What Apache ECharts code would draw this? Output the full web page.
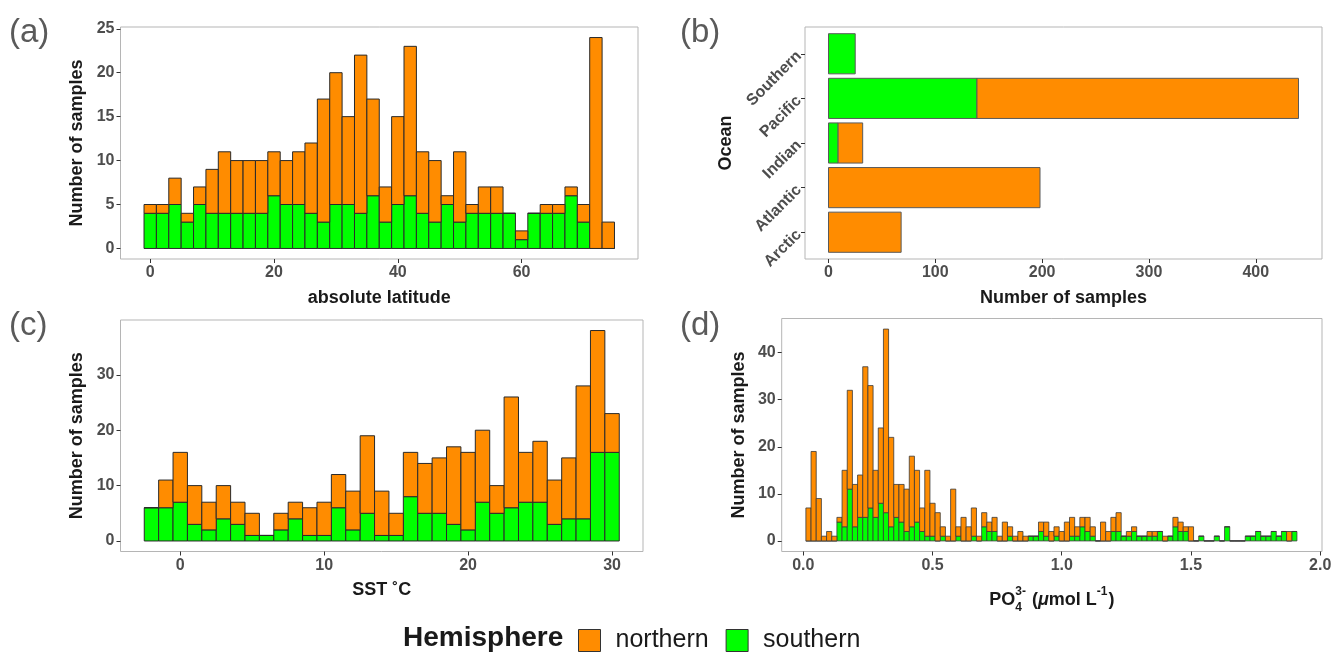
<!DOCTYPE html>
<html><head><meta charset="utf-8">
<script src="https://cdn.jsdelivr.net/npm/echarts@6/dist/echarts.min.js"></script>
<style>html,body{margin:0;padding:0;background:#fff;}#c{width:1337px;height:657px;}</style>
</head><body><div id="c"></div>
<script>
// ---------------- DATA ----------------
// (a) absolute latitude histogram (bin width 2)
const LAT_BIN = 2;
const latCenters = [0,2,4,6,8,10,12,14,16,18,20,22,24,26,28,30,32,34,36,38,40,42,44,46,48,50,52,54,56,58,60,62,64,66,68,70,72,74];
const latSouthern = [4,4,5,3,5,4,4,4,4,4,6,5,5,4,3,5,5,4,6,3,5,6,4,3,5,3,4,4,4,4,1,4,4,4,6,3,0,0];
const latNorthern = [1,1,3,1,2,5,7,6,6,6,5,5,6,8,14,15,10,18,11,4,10,17,7,7,1,8,1,3,3,0,1,0,1,1,1,2,24,3];
const latTicks = [0,20,40,60];
const countTicksA = [0,5,10,15,20,25];

// (b) samples per ocean
const oceans = ['Arctic','Atlantic','Indian','Pacific','Southern'];
const oceanSouthern = [0,0,9,139,25];
const oceanNorthern = [68,198,23,301,0];
const oceanTicks = [0,100,200,300,400];

// (c) SST histogram (bin width 1)
const SST_BIN = 1;
const sstCenters = [-2,-1,0,1,2,3,4,5,6,7,8,9,10,11,12,13,14,15,16,17,18,19,20,21,22,23,24,25,26,27,28,29,30];
const sstSouthern = [6,6,7,3,2,4,3,1,1,2,4,1,1,6,2,5,1,1,8,5,5,3,2,7,5,6,7,7,3,4,4,16,16];
const sstNorthern = [0,5,9,7,5,6,4,4,0,3,3,5,6,6,7,14,8,4,8,9,10,14,14,13,5,20,9,11,8,11,24,22,7];
const sstTicks = [0,10,20,30];
const countTicksC = [0,10,20,30];

// (d) phosphate histogram (bin width 0.02)
const PO4_BIN = 0.02;
const po4Centers = [
 0.02,0.04,0.06,0.08,0.10,0.12,0.14,0.16,0.18,0.20,
 0.22,0.24,0.26,0.28,0.30,0.32,0.34,0.36,0.38,0.40,
 0.42,0.44,0.46,0.48,0.50,0.52,0.54,0.56,0.58,0.60,
 0.62,0.64,0.66,0.68,0.70,0.72,0.74,0.76,0.78,0.80,
 0.82,0.84,0.86,0.88,0.90,0.92,0.94,0.96,0.98,1.00,
 1.02,1.04,1.06,1.08,1.10,1.12,1.14,1.16,1.18,1.20,
 1.22,1.24,1.26,1.28,1.30,1.32,1.34,1.36,1.38,1.40,
 1.42,1.44,1.46,1.48,1.50,1.52,1.54,1.56,1.58,1.60,
 1.62,1.64,1.66,1.68,1.70,1.72,1.74,1.76,1.78,1.80,
 1.82,1.84,1.86,1.88,1.90];
const po4Southern = [
 0,0,0,0,0,0,4,3,11,3,
 5,5,7,5,8,6,3,5,4,2,
 3,4,2,1,1,0,1,0,0,1,
 0,0,1,0,3,2,2,0,0,1,
 0,0,0,1,1,2,1,0,1,0,
 0,1,1,3,2,1,0,0,0,2,
 2,1,1,2,1,1,1,1,2,0,
 1,3,2,2,0,0,1,0,0,1,
 0,3,0,0,0,1,1,2,1,1,
 2,1,2,0,2];
const po4Northern = [
 7,19,9,1,2,1,1,12,21,9,
 9,32,26,10,16,39,19,7,8,9,
 15,11,5,14,7,6,2,1,11,2,
 5,3,6,1,3,2,3,1,4,2,
 1,2,1,0,0,2,3,2,2,2,
 4,4,2,2,3,2,0,4,2,3,
 4,0,1,1,0,0,1,1,0,1,
 0,2,2,1,3,0,0,0,0,0,
 0,0,0,0,0,0,0,0,0,0,
 0,0,0,2,0];
const po4Ticks = [0,0.5,1,1.5,2];
const countTicksD = [0,10,20,30,40];

// ---------------- STYLE ----------------
const ORANGE = '#FF8C00', GREEN = '#00FF00';
const FONT = 'Liberation Sans, Arial, sans-serif';
const TICK_COLOR = '#4d4d4d', TITLE_COLOR = '#1a1a1a';

function stacked(centers, south, north) {
  const s = [], n = [];
  centers.forEach((c, i) => {
    s.push([c, 0, south[i]]);
    n.push([c, south[i], south[i] + north[i]]);
  });
  return { s, n };
}
function vRender(binW, stroke, lw) {
  return function (params, api) {
    const c = api.value(0), y0 = api.value(1), y1 = api.value(2);
    const p0 = api.coord([c - binW / 2, y1]);
    const p1 = api.coord([c + binW / 2, y0]);
    return { type: 'rect', shape: { x: p0[0], y: p0[1], width: p1[0] - p0[0], height: p1[1] - p0[1] },
      style: { fill: api.visual('color'), stroke: stroke, lineWidth: lw } };
  };
}
function hRender(params, api) {
  const idx = api.value(0), x0 = api.value(1), x1 = api.value(2);
  const p0 = api.coord([x0, idx + 0.45]);
  const p1 = api.coord([x1, idx - 0.45]);
  return { type: 'rect', shape: { x: p0[0], y: p0[1], width: p1[0] - p0[0], height: p1[1] - p0[1] },
    style: { fill: api.visual('color'), stroke: '#5a5a5a', lineWidth: 1 } };
}
function tickLabel(extra) {
  return Object.assign({ color: TICK_COLOR, fontWeight: 'bold', fontSize: 16, fontFamily: FONT, margin: 6 }, extra || {});
}
function axisCommon(ticks, fmt) {
  return {
    axisLine: { show: false, onZero: false }, splitLine: { show: false },
    axisTick: { show: true, length: 4, customValues: ticks, lineStyle: { color: '#333', width: 1 } },
    axisLabel: tickLabel({ customValues: ticks, formatter: fmt })
  };
}
const nameStyle = { color: TITLE_COLOR, fontWeight: 'bold', fontSize: 18, fontFamily: FONT };

const A = stacked(latCenters, latSouthern, latNorthern);
const C = stacked(sstCenters, sstSouthern, sstNorthern);
const D = stacked(po4Centers, po4Southern, po4Northern);
const Bs = [], Bn = [];
oceans.forEach((o, i) => {
  if (oceanSouthern[i] > 0) Bs.push([i + 1, 0, oceanSouthern[i]]);
  if (oceanNorthern[i] > 0) Bn.push([i + 1, oceanSouthern[i], oceanSouthern[i] + oceanNorthern[i]]);
});

const gridStyle = { show: true, borderColor: '#b5b5b5', borderWidth: 1, backgroundColor: '#fff' };
const W = 1337, H = 657;
const grids = [
  Object.assign({ left: 120.5, right: W - 638, top: 27, bottom: H - 259 }, gridStyle),
  Object.assign({ left: 805, right: W - 1322, top: 27, bottom: H - 259 }, gridStyle),
  Object.assign({ left: 120.5, right: W - 643, top: 320, bottom: H - 551.5 }, gridStyle),
  Object.assign({ left: 781.7, right: W - 1322, top: 318.5, bottom: H - 551.5 }, gridStyle)
];

const xAxes = [
  Object.assign({ gridIndex: 0, type: 'value', min: -4.8, max: 78.8, name: 'absolute latitude',
    nameLocation: 'middle', nameGap: 30, nameTextStyle: nameStyle }, axisCommon(latTicks)),
  Object.assign({ gridIndex: 1, type: 'value', min: -22, max: 462, name: 'Number of samples',
    nameLocation: 'middle', nameGap: 30, nameTextStyle: nameStyle }, axisCommon(oceanTicks)),
  Object.assign({ gridIndex: 2, type: 'value', min: -4.15, max: 32.15, name: 'SST \u02DAC',
    nameLocation: 'middle', nameGap: 30, nameTextStyle: nameStyle }, axisCommon(sstTicks)),
  Object.assign({ gridIndex: 3, type: 'value', min: -0.0836, max: 2.007 },
    axisCommon(po4Ticks, v => v.toFixed(1)))
];
const yAxes = [
  Object.assign({ gridIndex: 0, type: 'value', min: -1.2, max: 25.2, name: 'Number of samples',
    nameLocation: 'middle', nameRotate: 90, nameGap: 34, nameTextStyle: nameStyle }, axisCommon(countTicksA)),
  Object.assign({ gridIndex: 1, type: 'value', min: 0.4, max: 5.6, name: 'Ocean',
    nameLocation: 'middle', nameRotate: 90, nameGap: 70, nameTextStyle: nameStyle },
    axisCommon([1, 2, 3, 4, 5], v => oceans[Math.round(v) - 1])),
  Object.assign({ gridIndex: 2, type: 'value', min: -1.9, max: 39.9, name: 'Number of samples',
    nameLocation: 'middle', nameRotate: 90, nameGap: 34, nameTextStyle: nameStyle }, axisCommon(countTicksC)),
  Object.assign({ gridIndex: 3, type: 'value', min: -2.25, max: 47.25, name: 'Number of samples',
    nameLocation: 'middle', nameRotate: 90, nameGap: 34, nameTextStyle: nameStyle }, axisCommon(countTicksD))
];
yAxes[1].axisLabel.rotate = 45;

function histSeries(name, color, data, idx, binW, stroke, lw) {
  return { type: 'custom', name: name, xAxisIndex: idx, yAxisIndex: idx, data: data,
    itemStyle: { color: color }, encode: { x: 0, y: [1, 2] }, renderItem: vRender(binW, stroke, lw),
    silent: true, animation: false, clip: false };
}
const series = [
  histSeries('southern', GREEN, A.s, 0, LAT_BIN, '#2a2a2a', 1),
  histSeries('northern', ORANGE, A.n, 0, LAT_BIN, '#2a2a2a', 1),
  { type: 'custom', name: 'southern', xAxisIndex: 1, yAxisIndex: 1, data: Bs, itemStyle: { color: GREEN },
    encode: { y: 0, x: [1, 2] }, renderItem: hRender, animation: false },
  { type: 'custom', name: 'northern', xAxisIndex: 1, yAxisIndex: 1, data: Bn, itemStyle: { color: ORANGE },
    encode: { y: 0, x: [1, 2] }, renderItem: hRender, animation: false },
  histSeries('southern', GREEN, C.s, 2, SST_BIN, '#2a2a2a', 1),
  histSeries('northern', ORANGE, C.n, 2, SST_BIN, '#2a2a2a', 1),
  histSeries('southern', GREEN, D.s, 3, PO4_BIN, '#3a3a3a', 0.8),
  histSeries('northern', ORANGE, D.n, 3, PO4_BIN, '#3a3a3a', 0.8)
];

// x title of panel (d) with stacked super/subscript
function measure(text, font) {
  const ctx = document.createElement('canvas').getContext('2d');
  ctx.font = font; return ctx.measureText(text).width;
}
const big = 'bold 18px Liberation Sans', small = 'bold 12px Liberation Sans', bigI = 'italic bold 18px Liberation Sans';
const parts = [
  { t: 'PO', f: big, dy: 0 },
  { t: '3-', f: small, dy: -8, sub: '4' },
  { t: ' (', f: big, dy: 0 },
  { t: '\u03BC', f: bigI, dy: 0 },
  { t: 'mol L', f: big, dy: 0 },
  { t: '-1', f: small, dy: -8 },
  { t: ')', f: big, dy: 0 }
];
let total = 0; parts.forEach(p => { p.w = measure(p.t, p.f) + (p.f === small ? 1 : 0); total += p.w; });
const cxD = (781.7 + 1322) / 2, cyD = 600;
let xx = cxD - total / 2;
const titleD = [];
parts.forEach(p => {
  titleD.push({ type: 'text', x: xx, y: cyD + p.dy, style: { text: p.t, font: p.f, fill: TITLE_COLOR, verticalAlign: 'middle', align: 'left' } });
  if (p.sub) titleD.push({ type: 'text', x: xx, y: cyD + 8, style: { text: p.sub, font: small, fill: TITLE_COLOR, verticalAlign: 'middle', align: 'left' } });
  xx += p.w;
});

const panelLabel = (t, x, y) => ({ type: 'text', x: x, y: y, style: { text: t, font: '33px Liberation Sans', fill: '#5a5a5a' } });

const chart = echarts.init(document.getElementById('c'), null, { renderer: 'canvas' });
chart.setOption({
  animation: false,
  backgroundColor: '#fff',
  grid: grids, xAxis: xAxes, yAxis: yAxes, series: series,
  legend: {
    data: [{ name: 'northern', icon: 'rect' }, { name: 'southern', icon: 'rect' }],
    left: 573, top: 623, itemWidth: 22, itemHeight: 22, itemGap: 17, selectedMode: false,
    itemStyle: { borderColor: '#333', borderWidth: 1 },
    textStyle: { fontSize: 25, fontFamily: FONT, color: '#1a1a1a', padding: [0, 0, 0, 10] }
  },
  graphic: [
    panelLabel('(a)', 9, 16), panelLabel('(b)', 680, 16), panelLabel('(c)', 9, 309), panelLabel('(d)', 680, 309),
    { type: 'text', x: 403, y: 638, style: { text: 'Hemisphere', font: 'bold 28px Liberation Sans', fill: '#1a1a1a', verticalAlign: 'middle' } }
  ].concat(titleD)
});
</script></body></html>
